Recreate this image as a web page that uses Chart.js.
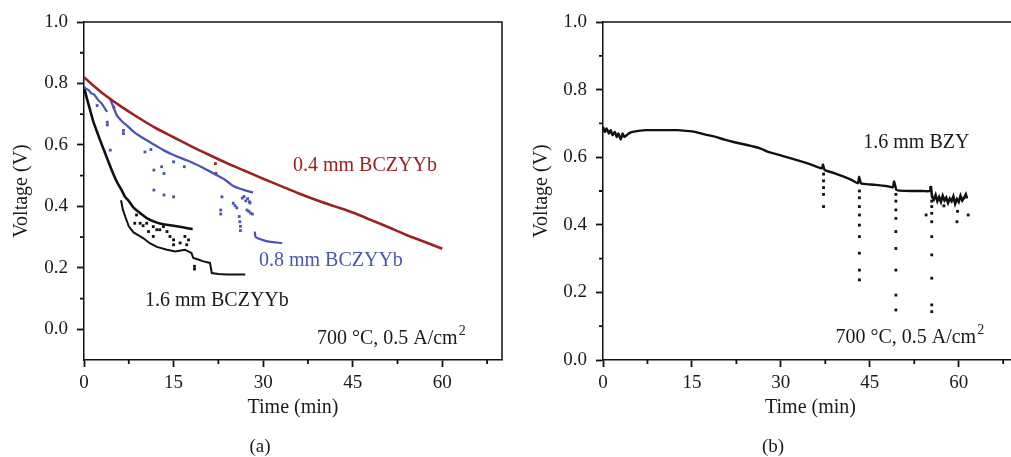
<!DOCTYPE html>
<html>
<head>
<meta charset="utf-8">
<script src="https://cdn.jsdelivr.net/npm/chart.js@4.4.1/dist/chart.umd.min.js"></script>
<style>
html, body { margin: 0; padding: 0; background: #fff; overflow: hidden; }
#wrap { position: relative; width: 1011px; height: 457px; overflow: hidden; }
canvas { position: absolute; top: 0; }
#chartA { left: 0; }
#chartB { left: 515px; }
.tag { position: absolute; top: 435px; width: 40px; text-align: center; font: 19px "Liberation Serif", serif; color: #1a1a1a; }
</style>
</head>
<body>
<div id="wrap">
  <canvas id="chartA" width="510" height="457"></canvas>
  <canvas id="chartB" width="515" height="457"></canvas>
  <div class="tag" style="left:240px">(a)</div>
  <div class="tag" style="left:753px">(b)</div>
</div>
<script>
// ---------- panel (a) data ----------
const redTime = [0, 3, 6, 9, 12, 15, 18, 21, 24, 27, 30, 33, 36, 39, 42, 45, 48, 51, 54, 57, 60];
const redVolt = [0.82, 0.77, 0.728, 0.69, 0.655, 0.625, 0.595, 0.567, 0.54, 0.515, 0.49, 0.466, 0.442, 0.42, 0.40, 0.38, 0.356, 0.332, 0.307, 0.285, 0.262];
const redDotTime = [5.0, 22.0, 22.1];
const redDotVolt = [0.723, 0.539, 0.507];

const blueEarlyTime = [0, 0.4, 0.8, 1.2, 1.6, 2.0, 2.4, 2.8, 3.2, 3.6, 3.9];
const blueEarlyVolt = [0.79, 0.782, 0.778, 0.768, 0.765, 0.756, 0.745, 0.738, 0.728, 0.715, 0.708];
const blueTime = [4.4, 5.0, 5.5, 6.3, 7.2, 8.5, 10.5, 12.0, 13.3, 15.0, 17.2, 19.5, 21.7, 23.5, 25.0, 26.5, 28.3];
const blueVolt = [0.748, 0.72, 0.696, 0.678, 0.663, 0.64, 0.615, 0.598, 0.583, 0.567, 0.55, 0.53, 0.507, 0.488, 0.466, 0.455, 0.445];
const blueLowTime = [28.6, 28.7, 29.0, 30.0, 31.0, 32.0, 33.2];
const blueLowVolt = [0.318, 0.302, 0.297, 0.29, 0.285, 0.283, 0.28];
const blueDotTime = [2.2, 3.9, 3.9, 6.6, 6.6, 4.4, 10.2, 11.2, 11.7, 13.0, 13.4, 15.0, 16.8, 11.7, 13.4, 15.0,
  23.1, 22.9, 22.9, 25.0, 25.3, 25.6, 26.0, 26.1, 26.2, 26.2, 26.5, 26.8, 27.1, 27.4, 27.7, 27.8, 27.3, 27.6, 27.9, 28.2];
const blueDotVolt = [0.728, 0.674, 0.665, 0.647, 0.637, 0.583, 0.577, 0.585, 0.518, 0.529, 0.507, 0.545, 0.529, 0.453, 0.437, 0.431,
  0.431, 0.388, 0.375, 0.41, 0.402, 0.395, 0.367, 0.35, 0.335, 0.321, 0.427, 0.432, 0.418, 0.425, 0.415, 0.411, 0.388, 0.384, 0.378, 0.375];

const blackTime = [0, 0.5, 1.0, 1.5, 2.1, 3.0, 3.8, 4.6, 5.5, 6.3, 6.9, 7.4, 8.3, 9.4, 10.5, 12.2, 13.5, 15.0, 16.5, 18.2];
const blackVolt = [0.787, 0.75, 0.715, 0.68, 0.647, 0.6, 0.56, 0.52, 0.48, 0.453, 0.43, 0.42, 0.396, 0.378, 0.362, 0.347, 0.341, 0.337, 0.332, 0.326];
const blackLowTime = [6.2, 6.5, 6.9, 7.5, 8.3, 9.9, 11.0, 12.2, 13.9, 15.3, 16.9, 18.0, 18.3, 19.0, 20.0, 21.1, 21.4, 22.5, 23.9, 25.5, 27.0];
const blackLowVolt = [0.42, 0.39, 0.367, 0.335, 0.315, 0.297, 0.28, 0.268, 0.259, 0.253, 0.259, 0.248, 0.232, 0.228, 0.221, 0.216, 0.183, 0.18, 0.178, 0.178, 0.178];
const blackDotTime = [8.8, 8.5, 9.4, 9.9, 10.5, 11.6, 12.2, 12.7, 13.3, 13.9, 14.4, 15.0, 15.0, 16.1, 16.9, 17.5, 17.2, 10.8, 11.6, 18.5, 18.5];
const blackDotVolt = [0.372, 0.345, 0.345, 0.337, 0.345, 0.334, 0.324, 0.324, 0.334, 0.318, 0.302, 0.291, 0.275, 0.281, 0.302, 0.291, 0.275, 0.318, 0.302, 0.205, 0.196];

// ---------- panel (b) data ----------
const bzyTime = [0, 0.3, 0.6, 1, 1.3, 1.6, 2, 2.3, 2.6, 3, 3.3, 3.6, 4, 4.5, 5, 6, 7.4, 9, 10.5, 12.5, 14, 15.5, 17.5, 19, 20.5, 22, 24.3, 26.5, 28, 29.9,
  31, 33, 35, 36.9, 37.1, 37.4, 39, 40.5, 42, 43, 43.2, 43.5, 44, 46, 48, 48.9, 49.1, 49.5, 50, 52, 54, 55.1, 55.3];
const bzyVolt = [0.69, 0.675, 0.685, 0.67, 0.68, 0.665, 0.675, 0.66, 0.67, 0.652, 0.67, 0.66, 0.665, 0.672, 0.675, 0.678, 0.68, 0.68, 0.68, 0.68, 0.678, 0.675, 0.666, 0.66, 0.652, 0.645, 0.636, 0.626, 0.615, 0.606,
  0.60, 0.59, 0.579, 0.567, 0.578, 0.562, 0.553, 0.543, 0.532, 0.523, 0.542, 0.523, 0.521, 0.518, 0.514, 0.511, 0.528, 0.503, 0.501, 0.50, 0.50, 0.50, 0.515];
const bzyTailTime = [55.3, 55.5, 55.8, 56.1, 56.4, 56.7, 57, 57.3, 57.6, 57.9, 58.2, 58.5, 58.8, 59.1, 59.4, 59.7, 60, 60.3, 60.6, 60.9, 61.2, 61.4];
const bzyTailVolt = [0.515, 0.483, 0.475, 0.488, 0.47, 0.482, 0.468, 0.486, 0.472, 0.48, 0.465, 0.478, 0.47, 0.484, 0.462, 0.476, 0.468, 0.486, 0.472, 0.48, 0.49, 0.478];
const bzyDotTime = [37.2, 37.2, 37.2, 37.2, 37.2,
  43.25, 43.25, 43.25, 43.25, 43.25, 43.25, 43.25, 43.25, 43.25,
  49.4, 49.4, 49.4, 49.4, 49.4, 49.4, 49.4, 49.4, 49.4,
  55.45, 55.45, 55.45, 55.45, 55.45, 55.45, 55.45, 55.45, 55.45,
  54.5, 57.5, 59.7, 59.8, 61.6];
const bzyDotVolt = [0.55, 0.53, 0.51, 0.49, 0.454,
  0.50, 0.48, 0.454, 0.429, 0.399, 0.365, 0.316, 0.266, 0.237,
  0.49, 0.47, 0.444, 0.419, 0.38, 0.33, 0.266, 0.192, 0.148,
  0.47, 0.454, 0.434, 0.409, 0.365, 0.311, 0.242, 0.163, 0.143,
  0.429, 0.456, 0.409, 0.44, 0.429];

const xTicks = [0, 15, 30, 45, 60];
const xMinor = [7.5, 22.5, 37.5, 52.5, 67.5];
const yTicks = [0, 0.2, 0.4, 0.6, 0.8, 1.0];
const yMinor = [0.1, 0.3, 0.5, 0.7, 0.9];

const RED = '#9b2222';
const BLUE = '#4b55b8';
const BLACK = '#111111';
const FONT = '"Liberation Serif", "Times New Roman", serif';

function pts(t, v) {
    return t.map((x, i) => ({ x: x, y: v[i] }));
}

function lineSet(t, v, color, width, tension) {
    return {
        data: pts(t, v), showLine: true, borderColor: color, backgroundColor: color,
        borderWidth: width, pointRadius: 0, tension: tension
    };
}

function dotSet(t, v, color) {
    return {
        data: pts(t, v), showLine: false, pointStyle: 'rect', pointRadius: 2,
        borderWidth: 0, backgroundColor: color, borderColor: color
    };
}

// frame, minor ticks and text notes
const decor = {
    id: 'decor',
    afterDraw(chart, args, opts) {
        const ctx = chart.ctx;
        const a = chart.chartArea;
        const x = chart.scales.x, y = chart.scales.y;
        ctx.save();
        ctx.strokeStyle = BLACK;
        ctx.lineWidth = 1.5;
        ctx.beginPath();
        ctx.moveTo(a.left, a.top);
        ctx.lineTo(a.right, a.top);
        ctx.lineTo(a.right, a.bottom);
        ctx.stroke();

        ctx.lineWidth = 1.8;
        ctx.beginPath();
        xMinor.forEach(v => {
            const px = x.getPixelForValue(v);
            ctx.moveTo(px, a.bottom);
            ctx.lineTo(px, a.bottom + 4);
        });
        yMinor.forEach(v => {
            const py = y.getPixelForValue(v);
            ctx.moveTo(a.left, py);
            ctx.lineTo(a.left - 4, py);
        });
        ctx.stroke();

        ctx.textAlign = 'left';
        ctx.textBaseline = 'alphabetic';
        opts.notes.forEach(n => {
            const px = x.getPixelForValue(n.x), py = y.getPixelForValue(n.y);
            ctx.font = '20px ' + FONT;
            ctx.fillStyle = n.color;
            ctx.fillText(n.text, px, py);
            if (n.sup) {
                const w = ctx.measureText(n.text).width;
                ctx.font = '14px ' + FONT;
                ctx.fillText(n.sup, px + w + 1, py - 9);
            }
        });
        ctx.restore();
    }
};

function makeChart(id, datasets, yMin, axisWidth, titlePad, padRight, notes) {
    return new Chart(document.getElementById(id), {
        type: 'scatter',
        data: { datasets: datasets },
        plugins: [decor],
        options: {
            responsive: false,
            animation: false,
            layout: { padding: { top: 22, right: padRight, left: 0, bottom: 0 } },
            plugins: {
                legend: { display: false },
                tooltip: { enabled: false },
                decor: { notes: notes }
            },
            scales: {
                x: {
                    type: 'linear', min: 0, max: 70,
                    afterBuildTicks: s => { s.ticks = xTicks.map(v => ({ value: v })); },
                    afterFit: s => { s.height = 97; },
                    grid: { drawOnChartArea: false, tickLength: 7, tickWidth: 1.8, tickColor: BLACK },
                    border: { color: BLACK, width: 1.5 },
                    ticks: { color: '#1a1a1a', padding: 5, font: { family: FONT, size: 19 }, maxRotation: 0 },
                    title: { display: true, text: 'Time (min)', color: '#1a1a1a', font: { family: FONT, size: 20 }, padding: { top: 0, bottom: 37 } }
                },
                y: {
                    type: 'linear', min: yMin, max: 1.0,
                    afterBuildTicks: s => { s.ticks = yTicks.map(v => ({ value: v })); },
                    afterFit: s => { s.width = axisWidth; },
                    grid: { drawOnChartArea: false, tickLength: 7, tickWidth: 1.8, tickColor: BLACK },
                    border: { color: BLACK, width: 1.5 },
                    ticks: { color: '#1a1a1a', padding: 9, font: { family: FONT, size: 19 }, callback: v => v.toFixed(1) },
                    title: { display: true, text: 'Voltage (V)', color: '#1a1a1a', font: { family: FONT, size: 20 }, padding: { top: titlePad, bottom: 0 } }
                }
            }
        }
    });
}

const notesA = [
    { text: '0.4 mm BCZYYb', x: 35.0, y: 0.515, color: RED },
    { text: '0.8 mm BCZYYb', x: 29.3, y: 0.205, color: BLUE },
    { text: '1.6 mm BCZYYb', x: 10.2, y: 0.075, color: '#1a1a1a' },
    { text: '700 °C, 0.5 A/cm', sup: '2', x: 39.0, y: -0.049, color: '#1a1a1a' }
];
const notesB = [
    { text: '1.6 mm BZY', x: 43.9, y: 0.627, color: '#1a1a1a' },
    { text: '700 °C, 0.5 A/cm', sup: '2', x: 39.2, y: 0.049, color: '#1a1a1a' }
];

makeChart('chartA', [
    lineSet(redTime, redVolt, RED, 2.6, 0.3),
    lineSet(blueEarlyTime, blueEarlyVolt, BLUE, 2.2, 0.2),
    lineSet(blueTime, blueVolt, BLUE, 2.3, 0.3),
    lineSet(blueLowTime, blueLowVolt, BLUE, 2.2, 0.2),
    lineSet(blackTime, blackVolt, BLACK, 2.6, 0.3),
    lineSet(blackLowTime, blackLowVolt, BLACK, 2, 0),
    dotSet(redDotTime, redDotVolt, RED),
    dotSet(blueDotTime, blueDotVolt, BLUE),
    dotSet(blackDotTime, blackDotVolt, BLACK)
], -0.1, 84, 10, 8, notesA);

makeChart('chartB', [
    lineSet(bzyTime, bzyVolt, BLACK, 2.4, 0.2),
    lineSet(bzyTailTime, bzyTailVolt, BLACK, 2.6, 0),
    dotSet(bzyDotTime, bzyDotVolt, BLACK)
], 0, 88, 15, 12, notesB);
</script>
</body>
</html>
